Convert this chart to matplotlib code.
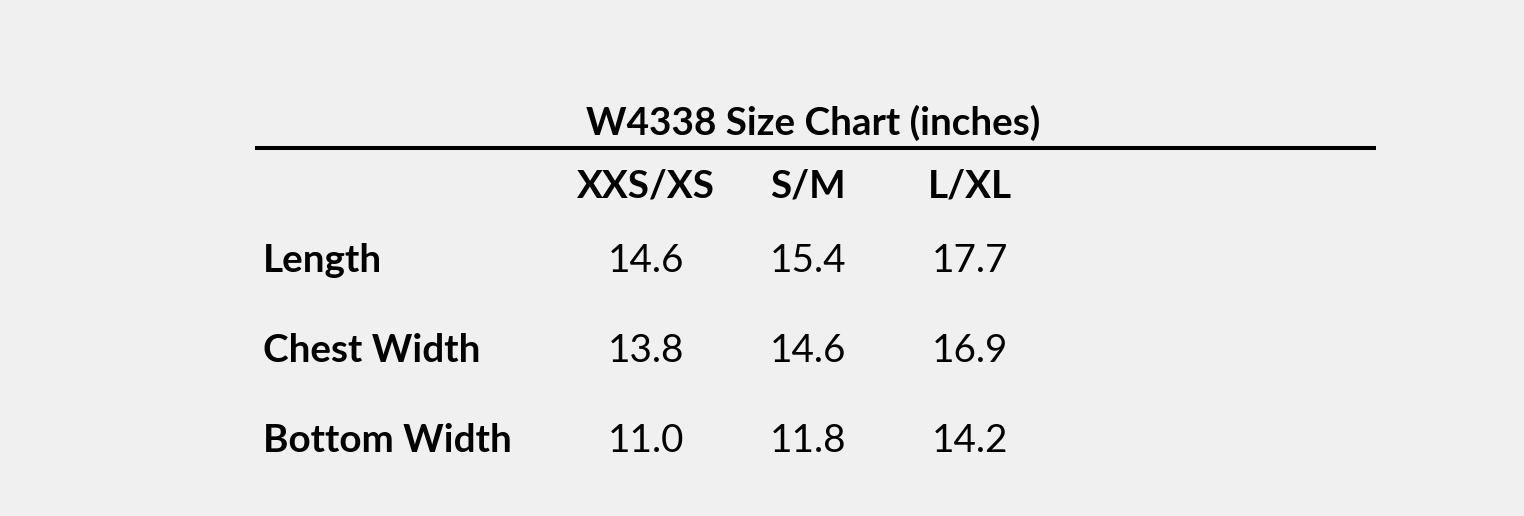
import matplotlib.pyplot as plt

title = "W4338 Size Chart (inches)"
sizes = ["XXS/XS", "S/M", "L/XL"]
measures = ["Length", "Chest Width", "Bottom Width"]
values = [
    [14.6, 15.4, 17.7],
    [13.8, 14.6, 16.9],
    [11.0, 11.8, 14.2],
]

W, H = 1524, 516
fig = plt.figure(figsize=(W / 100, H / 100), dpi=100, facecolor="#f0f0f0")
ax = fig.add_axes([0, 0, 1, 1])
ax.set_xlim(0, W)
ax.set_ylim(H, 0)
ax.axis("off")

font = "Lato"
fs = 27.8

col_x = [646, 808, 970]
row_y = [261, 351, 441]

ax.text(813, 123, title, ha="center", va="center", fontsize=fs,
        fontweight="bold", family=font)
ax.plot([255, 1376], [148, 148], color="black", lw=2.9, solid_capstyle="butt")

for x, s in zip(col_x, sizes):
    ax.text(x, 186, s, ha="center", va="center", fontsize=fs,
            fontweight="bold", family=font)

for y, m, row in zip(row_y, measures, values):
    ax.text(263, y, m, ha="left", va="center", fontsize=fs,
            fontweight="bold", family=font)
    for x, v in zip(col_x, row):
        ax.text(x, y, f"{v:.1f}", ha="center", va="center", fontsize=fs,
                family=font)

fig.savefig("out.png", dpi=100, facecolor=fig.get_facecolor())
